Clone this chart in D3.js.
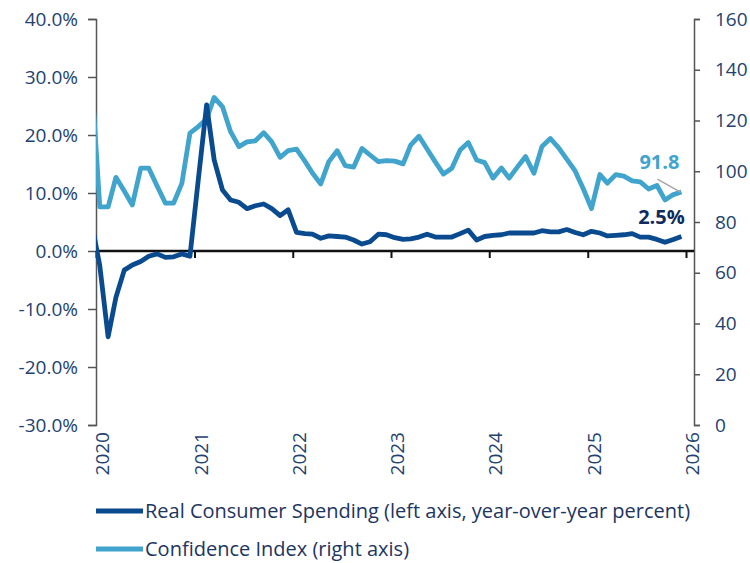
<!DOCTYPE html>
<html>
<head>
<meta charset="utf-8">
<script src="https://cdn.jsdelivr.net/npm/d3@7"></script>
<style>
  body { margin: 0; background: #fff; }
  svg { display: block; font-family: "Open Sans", sans-serif; }
</style>
</head>
<body>
<svg id="chart" width="750" height="563"></svg>
<script>
// monthly observations, Dec 2019 .. Dec 2025
const firstMonth = '2019-12';
const spending = [
  5.0, -2.5, -14.8, -8.0, -3.3, -2.4, -1.8, -0.9, -0.5, -1.1, -1.0, -0.5,
  -0.9, 12.3, 25.2, 15.7, 10.5, 8.8, 8.4, 7.3, 7.8, 8.1, 7.3, 6.1,
  7.1, 3.2, 3.0, 2.9, 2.2, 2.6, 2.5, 2.4, 1.9, 1.2, 1.6, 2.9,
  2.8, 2.3, 2.0, 2.1, 2.4, 2.9, 2.4, 2.4, 2.4, 3.0, 3.6, 1.9,
  2.5, 2.7, 2.8, 3.1, 3.1, 3.1, 3.1, 3.5, 3.3, 3.3, 3.7, 3.2,
  2.8, 3.4, 3.1, 2.6, 2.7, 2.8, 3.0, 2.4, 2.4, 2.0, 1.5, 2.0,
  2.5
];
const confidence = [
  138.0, 86.0, 86.0, 97.6, 92.2, 86.7, 101.2, 101.2, 94.2, 87.4, 87.4, 95.2,
  115.0, 117.6, 120.6, 129.1, 125.4, 115.6, 109.7, 111.6, 112.0, 115.2, 111.6, 105.5,
  108.1, 108.7, 104.0, 99.3, 95.0, 103.8, 108.1, 102.2, 101.6, 109.0, 106.4, 103.8,
  104.2, 104.0, 102.9, 110.3, 113.8, 108.8, 103.6, 98.9, 101.2, 108.4, 111.3, 104.4,
  103.4, 97.3, 101.3, 97.3, 101.7, 105.8, 99.2, 109.8, 112.9, 109.2, 104.8, 100.1,
  93.2, 85.3, 98.7, 95.3, 98.7, 98.1, 96.2, 95.8, 93.0, 94.4, 88.7, 90.8,
  91.8
];
const leftTicks = [-30, -20, -10, 0, 10, 20, 30, 40];
const rightTicks = [0, 20, 40, 60, 80, 100, 120, 140, 160];
const years = [2020, 2021, 2022, 2023, 2024, 2025, 2026];
const seriesNames = [
  'Real Consumer Spending (left axis, year-over-year percent)',
  'Confidence Index (right axis)'
];

const darkBlue = '#0a4a8e';
const lightBlue = '#40a4cd';
const labelColor = '#24426f';

const svg = d3.select('#chart');

const start = d3.timeParse('%Y-%m')(firstMonth);
const dates = spending.map((d, i) => d3.timeDay.offset(d3.timeMonth.offset(start, i), 14));

const x = d3.scaleTime()
  .domain([new Date(2020, 0, 1), new Date(2026, 0, 1)])
  .range([96, 686]);
const yL = d3.scaleLinear().domain([-30, 40]).range([425, 19]);
const yR = d3.scaleLinear().domain([0, 160]).range([425, 19]);

svg.append('clipPath')
  .attr('id', 'plotClip')
  .append('rect')
  .attr('x', 96).attr('y', 0)
  .attr('width', 598).attr('height', 563);

// left axis
const leftAxis = svg.append('g')
  .attr('transform', 'translate(96,0)')
  .call(d3.axisLeft(yL).tickValues(leftTicks).tickSize(8).tickPadding(10)
    .tickFormat(d => d.toFixed(1) + '%'));

// right axis
const rightAxis = svg.append('g')
  .attr('transform', 'translate(694,0)')
  .call(d3.axisRight(yR).tickValues(rightTicks).tickSize(6).tickPadding(15));

[leftAxis, rightAxis].forEach(g => {
  g.select('.domain').attr('stroke', '#555').attr('stroke-width', 1.5);
  g.selectAll('.tick line').attr('stroke', '#555').attr('stroke-width', 1.5);
  g.selectAll('.tick text')
    .attr('fill', labelColor)
    .style('font-size', '19px')
    .style('font-family', '"Open Sans", sans-serif');
});

// zero line with year ticks
const xAxis = svg.append('g')
  .attr('transform', `translate(0,${yL(0)})`)
  .call(d3.axisBottom(x).tickValues(years.map(y => new Date(y, 0, 1)))
    .tickSize(7).tickFormat(''));
xAxis.select('.domain').remove();
xAxis.selectAll('.tick line').attr('stroke', '#111').attr('stroke-width', 2);
svg.append('line')
  .attr('x1', 96).attr('x2', 694)
  .attr('y1', yL(0)).attr('y2', yL(0))
  .attr('stroke', '#111').attr('stroke-width', 2.5);

// year labels, rotated
svg.append('g').selectAll('text')
  .data(years)
  .join('text')
  .attr('transform', d => `translate(${x(new Date(d, 0, 1)) + 13},432) rotate(-90)`)
  .attr('text-anchor', 'end')
  .attr('fill', labelColor)
  .style('font-size', '19px')
  .text(d => d);

// series
const plot = svg.append('g').attr('clip-path', 'url(#plotClip)');

const lineL = d3.line().x((d, i) => x(dates[i])).y(d => yL(d));
const lineR = d3.line().x((d, i) => x(dates[i])).y(d => yR(d));

plot.append('path')
  .datum(confidence)
  .attr('d', lineR)
  .attr('fill', 'none')
  .attr('stroke', lightBlue)
  .attr('stroke-width', 4.8)
  .attr('stroke-linejoin', 'round');

plot.append('path')
  .datum(spending)
  .attr('d', lineL)
  .attr('fill', 'none')
  .attr('stroke', darkBlue)
  .attr('stroke-width', 4.8)
  .attr('stroke-linejoin', 'round');

// end labels
const last = spending.length - 1;
const lx = x(dates[last]);

svg.append('line')
  .attr('x1', lx - 24).attr('y1', yR(confidence[last]) - 13)
  .attr('x2', lx - 1).attr('y2', yR(confidence[last]))
  .attr('stroke', '#a6a6a6').attr('stroke-width', 1.5);

svg.append('text')
  .attr('x', lx - 22).attr('y', yR(confidence[last]) - 23)
  .attr('text-anchor', 'middle')
  .attr('fill', lightBlue)
  .style('font-size', '20px').style('font-weight', 700)
  .text(confidence[last].toFixed(1));

svg.append('text')
  .attr('x', lx - 20).attr('y', yL(spending[last]) - 13)
  .attr('text-anchor', 'middle')
  .attr('fill', '#102c5e')
  .style('font-size', '20px').style('font-weight', 700)
  .text(spending[last].toFixed(1) + '%');

// legend
const legend = svg.append('g').selectAll('g')
  .data(seriesNames)
  .join('g')
  .attr('transform', (d, i) => `translate(96,${511 + i * 38})`);

legend.append('line')
  .attr('x1', 0).attr('x2', 47)
  .attr('stroke', (d, i) => i === 0 ? darkBlue : lightBlue)
  .attr('stroke-width', 4.8);

legend.append('text')
  .attr('x', 49).attr('dy', '0.35em')
  .attr('fill', '#1d355f')
  .style('font-size', '20px')
  .text(d => d);
</script>
</body>
</html>
